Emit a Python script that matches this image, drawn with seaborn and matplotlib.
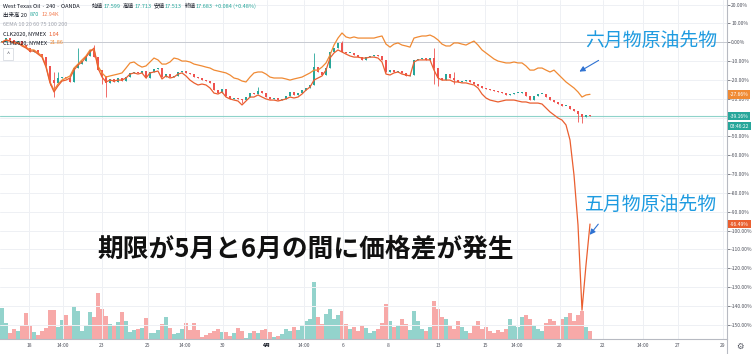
import numpy as np
import pandas as pd
import matplotlib
matplotlib.use("Agg")
import matplotlib.pyplot as plt
import matplotlib.transforms as mtransforms
from matplotlib.lines import Line2D
import seaborn as sns

# ============================================================
# DATA  (WTI 4H bars, percent change vs first bar)
# ============================================================

close = [0.0, 2.2, 1.2, -0.4, 0.6, -1.5, -3.1, -5.2, -4.1, -6.3,
         -7.9, -12.6, -20.1, -21.6, -19.0, -18.5, -19.0, -21.1, -13.7, -11.6,
         -10.0, -7.3, -4.1, -7.9, -14.8, -17.9, -21.6, -19.5, -21.1, -19.0,
         -20.6, -18.5, -16.3, -15.8, -16.3, -15.3, -19.0, -15.8, -14.2, -13.7,
         -18.5, -16.9, -18.5, -17.9, -15.8, -15.3, -16.3, -16.9, -18.5, -19.0,
         -20.1, -20.6, -21.6, -25.4, -27.0, -24.8, -28.5, -30.1, -29.6, -30.1,
         -30.7, -29.1, -27.0, -27.5, -25.9, -27.0, -29.1, -30.1, -29.6, -30.7,
         -30.1, -28.5, -26.4, -28.0, -27.0, -25.4, -24.3, -22.7, -13.2, -15.8,
         -17.4, -13.7, -5.2, -3.1, -0.4, -5.2, -5.7, -5.7, -6.8, -7.9,
         -9.4, -7.9, -7.3, -6.8, -7.3, -9.4, -15.8, -14.8, -15.8, -15.3,
         -16.3, -17.9, -17.4, -9.4, -8.9, -8.4, -9.4, -8.4, -13.7, -19.0,
         -20.1, -16.9, -19.0, -20.1, -21.1, -20.6, -20.1, -21.1, -22.2, -23.2,
         -24.3, -24.8, -25.4, -25.9, -26.4, -27.0, -28.0, -27.5, -27.0, -27.0,
         -26.4, -28.5, -30.7, -28.5, -27.5, -27.5, -29.1, -30.7, -31.7, -32.8,
         -33.8, -33.8, -35.4, -36.5, -38.1, -39.7, -38.6, -39.16]

# long wicks only (others are tiny at this scale)
wick_hi = {13: -16.0, 14: -15.8, 19: -3.1, 23: -1.5, 40: -13.5, 64: -23.8,
           78: -5.7, 85: 0.5, 108: -3.0, 113: -16.0}
wick_lo = {12: -22.5, 13: -29.1, 25: -22.0, 26: -29.1, 60: -32.3, 108: -22.0,
           109: -23.0, 113: -22.0, 144: -42.4, 145: -43.0}

# CLM2020 (June contract)
june = [0.0, 1.2, 0.6, -0.4, -0.4, -1.5, -2.6, -4.1, -4.1, -5.7,
        -7.3, -12.6, -21.1, -25.4, -22.2, -20.1, -19.0, -17.9, -13.7, -11.6,
        -9.4, -7.3, -4.1, -4.1, -12.6, -16.3, -18.5, -17.9, -17.4, -16.9,
        -16.3, -13.7, -11.0, -10.5, -12.1, -13.2, -12.6, -10.5, -8.4, -9.4,
        -11.6, -11.6, -10.5, -8.4, -8.9, -10.0, -10.0, -10.5, -11.6, -12.1,
        -12.6, -13.2, -13.7, -14.8, -15.3, -15.8, -16.3, -17.4, -19.0, -19.5,
        -20.6, -21.1, -18.5, -16.3, -15.8, -15.8, -16.9, -18.5, -19.0, -19.0,
        -19.0, -19.5, -20.1, -19.5, -19.0, -18.5, -17.4, -16.3, -14.8, -14.8,
        -13.2, -11.0, -6.8, -1.5, 2.2, 4.9, 2.8, 2.2, 2.8, 2.2,
        2.2, 2.2, 2.2, 2.2, 2.8, 3.3, -1.0, -2.6, -1.0, -0.4,
        -1.5, -2.0, -2.6, 2.2, 2.8, 3.3, 3.3, 3.8, 2.8, 1.2,
        -1.0, -2.0, -2.0, -0.4, -0.4, -1.0, -1.5, -0.4, 0.6, -1.5,
        -4.1, -5.7, -7.3, -8.9, -10.0, -10.5, -11.0, -11.0, -10.5, -11.0,
        -11.0, -12.6, -14.8, -14.8, -13.7, -13.7, -14.8, -15.8, -14.8, -16.9,
        -19.0, -21.1, -22.7, -24.3, -26.4, -29.1, -28.0, -27.66]

# CLK2020 (May contract)
may = [0.0, 1.2, 0.6, -0.4, -0.4, -2.0, -3.1, -4.7, -4.7, -6.3,
       -7.9, -13.2, -21.6, -26.4, -23.2, -20.6, -20.1, -19.0, -14.8, -12.1,
       -10.5, -7.9, -5.2, -3.1, -13.7, -18.5, -21.1, -20.1, -20.6, -20.1,
       -20.1, -19.0, -16.9, -16.3, -16.9, -16.3, -19.0, -16.3, -15.8, -15.3,
       -19.5, -17.9, -19.0, -18.5, -16.9, -16.3, -17.9, -20.1, -21.6, -22.7,
       -22.2, -22.7, -24.3, -27.0, -27.5, -26.4, -29.1, -30.1, -30.7, -31.2,
       -33.3, -31.2, -29.1, -29.1, -28.0, -29.1, -30.1, -30.7, -30.7, -31.2,
       -30.7, -30.1, -29.1, -29.6, -29.1, -27.5, -25.4, -23.8, -20.1, -19.0,
       -17.9, -14.8, -8.4, -5.7, -4.1, -5.2, -6.3, -7.3, -7.9, -7.9,
       -8.4, -8.4, -7.9, -7.9, -8.4, -10.5, -16.9, -17.4, -16.3, -15.8,
       -16.9, -17.4, -17.9, -10.5, -9.4, -9.4, -9.4, -9.4, -14.8, -19.0,
       -20.1, -20.1, -20.1, -21.1, -21.1, -21.6, -21.6, -22.2, -22.7, -24.3,
       -27.5, -29.6, -30.7, -31.2, -31.7, -31.2, -30.7, -30.7, -30.7, -31.2,
       -31.7, -31.7, -32.3, -32.3, -32.3, -32.8, -34.9, -37.0, -38.6, -40.2,
       -41.3, -43.9, -51.9, -70.5, -97.0, -142.2, -118.2, -96.49]

volume = [31, 16, 6, 10, 8, 14, 26, 14, 7, 4,
          8, 11, 29, 29, 12, 19, 24, 14, 33, 28,
          8, 14, 27, 22, 46, 30, 23, 15, 13, 17,
          27, 18, 7, 9, 10, 11, 21, 6, 6, 9,
          15, 22, 11, 5, 6, 10, 16, 9, 16, 9,
          2, 4, 6, 8, 10, 7, 7, 3, 6, 11,
          8, 1, 6, 8, 6, 9, 10, 7, 2, 3,
          5, 10, 8, 12, 9, 14, 18, 20, 57, 22,
          15, 25, 30, 20, 24, 28, 15, 10, 12, 8,
          14, 11, 6, 8, 10, 16, 35, 18, 12, 14,
          20, 15, 9, 28, 18, 10, 8, 12, 38, 30,
          22, 20, 14, 10, 18, 12, 8, 6, 14, 18,
          10, 12, 8, 6, 9, 7, 10, 20, 14, 12,
          22, 24, 20, 14, 10, 8, 16, 20, 18, 14,
          20, 22, 26, 18, 24, 28, 12, 8]

tick_pos = [6.75, 15.25, 25, 36.5, 45.75, 55.25, 66.25, 75.5, 85.25,
            96.5, 109, 120.75, 128.75, 139.5, 150.25, 160.25, 169, 180.25]
tick_labels = ["18", "14:00", "23", "25", "14:00", "30", "4月", "14:00", "6",
               "8", "13", "15", "14:00", "20", "22", "14:00", "27", "29"]
y_ticks = list(range(20, -160, -10))

# ============================================================
# STYLE
# ============================================================

UP = "#26a69a"
DOWN = "#ef5350"
VOL_UP = "#93d3cc"
VOL_DOWN = "#f7a9a8"
JUNE_C = "#f08a34"
MAY_C = "#ea5f30"
TXT = "#131722"
GRAY = "#50535e"

sns.set_theme(style="white")
plt.rcParams["font.family"] = ["Noto Sans CJK JP", "DejaVu Sans"]

df = pd.DataFrame({"bar": np.arange(len(close)), "close": close,
                   "june": june, "may": may, "vol": volume})
df["open"] = df["close"].shift(1).fillna(df["close"].iloc[0])
df["up"] = df["close"] >= df["open"]
df["hi"] = df[["open", "close"]].max(axis=1)
df["lo"] = df[["open", "close"]].min(axis=1)
for k, v in wick_hi.items():
    df.loc[k, "hi"] = max(df.loc[k, "hi"], v)
for k, v in wick_lo.items():
    df.loc[k, "lo"] = min(df.loc[k, "lo"], v)

W, H = 754, 354
fig = plt.figure(figsize=(W / 100, H / 100), dpi=100)
ax = fig.add_axes([0, 15 / H, 727 / W, 339 / H])
ax_vol = ax.twinx()

# volume (behind)
ax_vol.bar(df["bar"], df["vol"], width=0.8,
           color=np.where(df["up"], VOL_UP, VOL_DOWN), linewidth=0)
ax_vol.set_ylim(0, df["vol"].max() * 339 / 57)
ax_vol.axis("off")
ax.set_zorder(2)
ax_vol.set_zorder(1)
ax.patch.set_visible(False)

# grid + reference lines
ax.set_xlim(-0.5, 181.25)
ax.set_ylim(-157.5, 22.4)
ax.set_xticks(tick_pos)
ax.set_xticklabels(tick_labels)
ax.set_yticks(y_ticks)
ax.set_yticklabels([f"{v:.2f}%" for v in y_ticks])
ax.yaxis.tick_right()
ax.grid(True, color="#eef0f4", lw=0.7)
ax.axhline(0, color="#c7cad1", lw=0.7, zorder=1)
ax.axhline(df["close"].iloc[-1], color="#8fd3ca", lw=0.8, zorder=1)

# candles
colors = np.where(df["up"], UP, DOWN)
ax.vlines(df["bar"], df["lo"], df["hi"], colors=colors, lw=0.6, zorder=3)
body = (df["close"] - df["open"]).abs().clip(lower=0.4)
ax.bar(df["bar"], body, bottom=df[["open", "close"]].min(axis=1),
       width=0.7, color=colors, linewidth=0, zorder=3)

# contract lines
sns.lineplot(x=df["bar"], y=df["june"], ax=ax, color=JUNE_C, lw=0.9, zorder=4)
sns.lineplot(x=df["bar"], y=df["may"], ax=ax, color=MAY_C, lw=0.9, zorder=4)
ax.set_xlabel("")
ax.set_ylabel("")

for s in ["top", "left"]:
    ax.spines[s].set_visible(False)
for s in ["right", "bottom"]:
    ax.spines[s].set_color("#b7bac2")
    ax.spines[s].set_linewidth(0.8)
ax.tick_params(axis="y", labelsize=3.6, colors=GRAY, length=2, width=0.5,
               pad=1, right=True)
ax.tick_params(axis="x", labelsize=3.6, colors=GRAY, length=0, pad=3)
for lab in ax.get_xticklabels():
    if lab.get_text() == "4月":
        lab.set_fontweight("bold")
        lab.set_color(TXT)

# price boxes on the right scale
trans = mtransforms.blended_transform_factory(ax.transAxes, ax.transData)
for val, col in [(df["june"].iloc[-1], JUNE_C), (df["close"].iloc[-1], UP),
                 (df["may"].iloc[-1], MAY_C)]:
    ax.text(1.004, val, f"{val:.2f}%", transform=trans, fontsize=3.6,
            color="white", va="center", ha="left", clip_on=False, zorder=6,
            bbox=dict(boxstyle="square,pad=0.35", fc=col, ec="none"))
ax.annotate("03:46:22", xy=(1.004, df["close"].iloc[-1]), xycoords=trans,
            xytext=(0, -10), textcoords="offset pixels", fontsize=3.6,
            color="white", va="center", ha="left", annotation_clip=False,
            zorder=6, bbox=dict(boxstyle="square,pad=0.35", fc=UP, ec="none"))

fig.add_artist(Line2D([727 / W, 727 / W], [0, 15 / H], color="#b7bac2", lw=0.8))
fig.text(740 / W, 1 - 346 / H, "⚙", fontsize=6, color=GRAY,
         ha="center", va="center")

renderer = fig.canvas.get_renderer()


def row(x, y, parts, fs=4.0, gap=1.5):
    # write coloured text pieces one after another
    for s, col, g in parts:
        t = fig.text(x / W, 1 - y / H, s, fontsize=fs, color=col, va="center")
        x = t.get_window_extent(renderer).x1 + g


# legend block (top-left)
row(3, 6, [("West Texas Oil · 240 · OANDA", TXT, 0)])
row(92, 6, [("始値", TXT, 0.3), ("17.599", UP, 2.5), ("高値", TXT, 0.3), ("17.713", UP, 2.5),
            ("安値", TXT, 0.3), ("17.513", UP, 2.5), ("終値", TXT, 0.3), ("17.683", UP, 2.5),
            ("+0.084 (+0.48%)", UP, 0)])
row(3, 15, [("出来高 20", TXT, 2.5), ("870", UP, 2.5), ("12.94K", "#f27a4d", 0)])
row(3, 25, [("6EMA 10 20 60 75 100 200", "#a3a6af", 0)])
row(3, 34, [("CLK2020, NYMEX", TXT, 3), ("1.04", MAY_C, 0)])
row(3, 43, [("CLM2020, NYMEX", TXT, 3), ("21.86", JUNE_C, 0)])
fig.text(8 / W, 1 - 54 / H, "^", fontsize=4, color=GRAY, ha="center", va="center",
         bbox=dict(boxstyle="square,pad=0.6", fc="white", ec="#d1d4dc", lw=0.5))

# annotations
BLUE = "#1e9be0"
fig.text(651 / W, 1 - 41 / H, "六月物原油先物", fontsize=13.6, color=BLUE,
         ha="center", va="center")
fig.text(651 / W, 1 - 205 / H, "五月物原油先物", fontsize=13.6, color=BLUE,
         ha="center", va="center")
fig.text(306 / W, 1 - 249 / H, "期限が5月と6月の間に価格差が発生", fontsize=18.5,
         fontweight="bold", color="#111111", ha="center", va="center")
for (x0, y0), (x1, y1) in [((601, 59), (577, 73)), ((600, 222), (588, 237))]:
    ax.annotate("", xy=(x1, H - y1), xytext=(x0, H - y0),
                xycoords="figure pixels", textcoords="figure pixels",
                arrowprops=dict(arrowstyle="-|>", color="#2f72d2", lw=0.8,
                                mutation_scale=8), annotation_clip=False)

plt.savefig("out.png", dpi=100)
